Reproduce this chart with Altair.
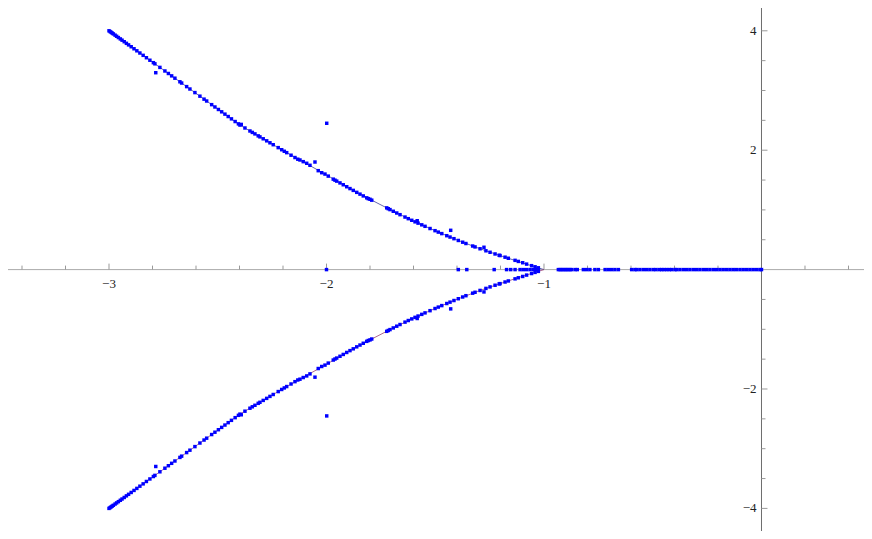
import altair as alt
import pandas as pd

# ---- data ----
# smooth curve (upper branch), lower branch is its mirror
curve_x = [-3.0, -2.9, -2.8, -2.7, -2.6, -2.5, -2.4, -2.3, -2.2, -2.1, -2.0,
           -1.9, -1.8, -1.7, -1.6, -1.5, -1.4, -1.3, -1.2, -1.1, -1.0]
curve_up_y = [4.0, 3.738, 3.476, 3.214, 2.952, 2.690, 2.425, 2.210, 1.995, 1.790, 1.586,
              1.373, 1.178, 0.990, 0.813, 0.650, 0.497, 0.357, 0.233, 0.113, 0.0]
curve_lo_y = [-4.0, -3.738, -3.476, -3.214, -2.952, -2.690, -2.425, -2.210, -1.995, -1.790, -1.586,
              -1.373, -1.178, -0.990, -0.813, -0.650, -0.497, -0.357, -0.233, -0.113, 0.0]

# scattered roots on the upper branch
pts_x = [-3.000, -2.995, -2.990, -2.985, -2.980, -2.972, -2.965, -2.957, -2.948, -2.940,
         -2.930, -2.920, -2.910, -2.898, -2.885, -2.872, -2.858, -2.843, -2.828, -2.812,
         -2.796, -2.789, -2.766, -2.743, -2.727, -2.712, -2.697, -2.674, -2.666, -2.643,
         -2.628, -2.605, -2.582, -2.563, -2.551, -2.528, -2.513, -2.497, -2.482, -2.467,
         -2.452, -2.437, -2.420, -2.405, -2.398, -2.392, -2.375, -2.352, -2.341, -2.329,
         -2.314, -2.306, -2.291, -2.275, -2.260, -2.245, -2.222, -2.206, -2.194, -2.183,
         -2.163, -2.145, -2.132, -2.122, -2.107, -2.091, -2.076, -2.038, -2.022, -2.007,
         -1.992, -1.969, -1.961, -1.953, -1.938, -1.923, -1.907, -1.892, -1.877, -1.861,
         -1.846, -1.831, -1.815, -1.808, -1.800, -1.792, -1.723, -1.716, -1.708, -1.693,
         -1.677, -1.662, -1.639, -1.624, -1.608, -1.593, -1.583, -1.579, -1.562, -1.547,
         -1.524, -1.501, -1.486, -1.470, -1.447, -1.432, -1.414, -1.394, -1.374, -1.359,
         -1.328, -1.317, -1.294, -1.276, -1.267, -1.248, -1.225, -1.206, -1.202, -1.179,
         -1.164, -1.133, -1.118, -1.098, -1.080, -1.057, -1.041, -1.026,
         -2.785, -1.999, -2.053, -1.429]
pts_up_y = [4.000, 3.987, 3.974, 3.961, 3.948, 3.927, 3.908, 3.887, 3.864, 3.843,
            3.817, 3.790, 3.764, 3.733, 3.699, 3.665, 3.628, 3.589, 3.549, 3.507,
            3.466, 3.447, 3.387, 3.327, 3.285, 3.245, 3.206, 3.146, 3.125, 3.065,
            3.025, 2.965, 2.905, 2.855, 2.824, 2.763, 2.724, 2.682, 2.643, 2.604,
            2.564, 2.525, 2.480, 2.441, 2.421, 2.432, 2.372, 2.322, 2.298, 2.273,
            2.240, 2.223, 2.191, 2.157, 2.124, 2.092, 2.043, 2.008, 1.982, 1.959,
            1.916, 1.877, 1.849, 1.836, 1.808, 1.781, 1.747, 1.657, 1.623, 1.600,
            1.566, 1.515, 1.498, 1.482, 1.452, 1.421, 1.388, 1.357, 1.327, 1.294,
            1.264, 1.234, 1.202, 1.188, 1.178, 1.163, 1.034, 1.020, 1.005, 0.977,
            0.948, 0.920, 0.880, 0.853, 0.826, 0.800, 0.819, 0.778, 0.750, 0.725,
            0.688, 0.652, 0.628, 0.603, 0.568, 0.545, 0.518, 0.488, 0.459, 0.437,
            0.395, 0.380, 0.349, 0.374, 0.315, 0.290, 0.262, 0.240, 0.235, 0.208,
            0.190, 0.155, 0.137, 0.115, 0.092, 0.066, 0.047, 0.030,
            3.298, 2.451, 1.802, 0.658]
pts_lo_y = [-4.000, -3.987, -3.974, -3.961, -3.948, -3.927, -3.908, -3.887, -3.864, -3.843,
            -3.817, -3.790, -3.764, -3.733, -3.699, -3.665, -3.628, -3.589, -3.549, -3.507,
            -3.466, -3.447, -3.387, -3.327, -3.285, -3.245, -3.206, -3.146, -3.125, -3.065,
            -3.025, -2.965, -2.905, -2.855, -2.824, -2.763, -2.724, -2.682, -2.643, -2.604,
            -2.564, -2.525, -2.480, -2.441, -2.421, -2.432, -2.372, -2.322, -2.298, -2.273,
            -2.240, -2.223, -2.191, -2.157, -2.124, -2.092, -2.043, -2.008, -1.982, -1.959,
            -1.916, -1.877, -1.849, -1.836, -1.808, -1.781, -1.747, -1.657, -1.623, -1.600,
            -1.566, -1.515, -1.498, -1.482, -1.452, -1.421, -1.388, -1.357, -1.327, -1.294,
            -1.264, -1.234, -1.202, -1.188, -1.178, -1.163, -1.034, -1.020, -1.005, -0.977,
            -0.948, -0.920, -0.880, -0.853, -0.826, -0.800, -0.819, -0.778, -0.750, -0.725,
            -0.688, -0.652, -0.628, -0.603, -0.568, -0.545, -0.518, -0.488, -0.459, -0.437,
            -0.395, -0.380, -0.349, -0.374, -0.315, -0.290, -0.262, -0.240, -0.235, -0.208,
            -0.190, -0.155, -0.137, -0.115, -0.092, -0.066, -0.047, -0.030,
            -3.298, -2.451, -1.802, -0.658]

# real roots on the axis
axis_pts_x = [-2.0, -1.394, -1.355, -1.229, -1.172, -1.153, -1.133, -1.110, -1.095, -1.080,
              -1.064, -1.049, -1.034, -1.026,
              -0.934, -0.926, -0.919, -0.911, -0.903, -0.896, -0.888, -0.880, -0.873, -0.857,
              -0.847, -0.819, -0.804, -0.789, -0.766, -0.750, -0.719, -0.704, -0.689, -0.674,
              -0.658, -0.597, -0.582, -0.574, -0.559, -0.543, -0.528, -0.513, -0.497, -0.485,
              -0.470, -0.459, -0.448, -0.436, -0.424, -0.413, -0.398, -0.390, -0.375, -0.359,
              -0.344, -0.329, -0.313, -0.298, -0.283, -0.267, -0.252, -0.237, -0.221, -0.206,
              -0.191, -0.176, -0.160, -0.145, -0.130, -0.115, -0.099, -0.084, -0.068, -0.053,
              -0.038, -0.022, -0.007, 0.0]

# axis ticks and labels
x_major = [-3, -2, -1]
x_minor = [-3.4, -3.2, -2.8, -2.6, -2.4, -2.2, -1.8, -1.6, -1.4, -1.2,
           -0.8, -0.6, -0.4, -0.2, 0.2, 0.4]
x_labels = ["\u22123", "\u22122", "\u22121"]
y_major = [-4, -2, 2, 4]
y_minor = [-3.5, -3, -2.5, -1.5, -1, -0.5, 0.5, 1, 1.5, 2.5, 3, 3.5]
y_labels = ["\u22124", "\u22122", "2", "4"]

# ---- build ----
W, H = 856, 523
xs = alt.Scale(domain=[-3.4644, 0.4713], nice=False, zero=False)
ys = alt.Scale(domain=[-4.3786, 4.3819], nice=False, zero=False)
FONT = "Liberation Serif"

curve_up = pd.DataFrame({"x": curve_x, "y": curve_up_y})
curve_lo = pd.DataFrame({"x": curve_x, "y": curve_lo_y})
pts = pd.DataFrame({"x": pts_x + pts_x + axis_pts_x,
                    "y": pts_up_y + pts_lo_y + [0.0] * len(axis_pts_x)})
xmaj = pd.DataFrame({"x": x_major, "label": x_labels, "z": [0] * len(x_major)})
xmin = pd.DataFrame({"x": x_minor, "z": [0] * len(x_minor)})
ymaj = pd.DataFrame({"y": y_major, "label": y_labels, "z": [0] * len(y_major)})
ymin = pd.DataFrame({"y": y_minor, "z": [0] * len(y_minor)})
origin = pd.DataFrame({"z": [0]})


def X(f):
    return alt.X(f, type="quantitative", scale=xs, axis=None)


def Y(f):
    return alt.Y(f, type="quantitative", scale=ys, axis=None)


x_axis = alt.Chart(origin).mark_rule(color="#aaaaaa", strokeWidth=1).encode(
    x=alt.value(0), x2=alt.value(W), y=Y("z"))
y_axis = alt.Chart(origin).mark_rule(color="#6e6e6e", strokeWidth=1).encode(
    y=alt.value(0), y2=alt.value(H), x=X("z"))

xmaj_t = alt.Chart(xmaj).mark_rule(color="#999999", y2Offset=-6).encode(
    x=X("x"), y=Y("z"), y2=alt.Y2("z"))
xmin_t = alt.Chart(xmin).mark_rule(color="#999999", y2Offset=-4).encode(
    x=X("x"), y=Y("z"), y2=alt.Y2("z"))
ymaj_t = alt.Chart(ymaj).mark_rule(color="#999999", x2Offset=6).encode(
    y=Y("y"), x=X("z"), x2=alt.X2("z"))
ymin_t = alt.Chart(ymin).mark_rule(color="#999999", x2Offset=4).encode(
    y=Y("y"), x=X("z"), x2=alt.X2("z"))

xlab = alt.Chart(xmaj).mark_text(font=FONT, fontSize=13, color="#222222", baseline="middle",
                                 align="center", dy=14).encode(
    x=X("x"), y=Y("z"), text="label:N")
ylab = alt.Chart(ymaj).mark_text(font=FONT, fontSize=13, color="#222222", baseline="middle",
                                 align="right", dx=-5).encode(
    y=Y("y"), x=X("z"), text="label:N")

line_up = alt.Chart(curve_up).mark_line(color="#3d3d99", strokeWidth=0.8).encode(x=X("x"), y=Y("y"))
line_lo = alt.Chart(curve_lo).mark_line(color="#993d71", strokeWidth=0.8).encode(x=X("x"), y=Y("y"))

points = alt.Chart(pts).mark_square(size=12, color="#0000ff", opacity=1).encode(x=X("x"), y=Y("y"))

chart = alt.layer(x_axis, y_axis, xmaj_t, xmin_t, ymaj_t, ymin_t, xlab, ylab,
                  line_up, line_lo, points).properties(
    width=W, height=H, padding=0, autosize=alt.AutoSizeParams(type="none"),
    background="white"
).configure_view(stroke=None)

chart.save("out.html", embed_options={"renderer": "svg", "actions": False})
